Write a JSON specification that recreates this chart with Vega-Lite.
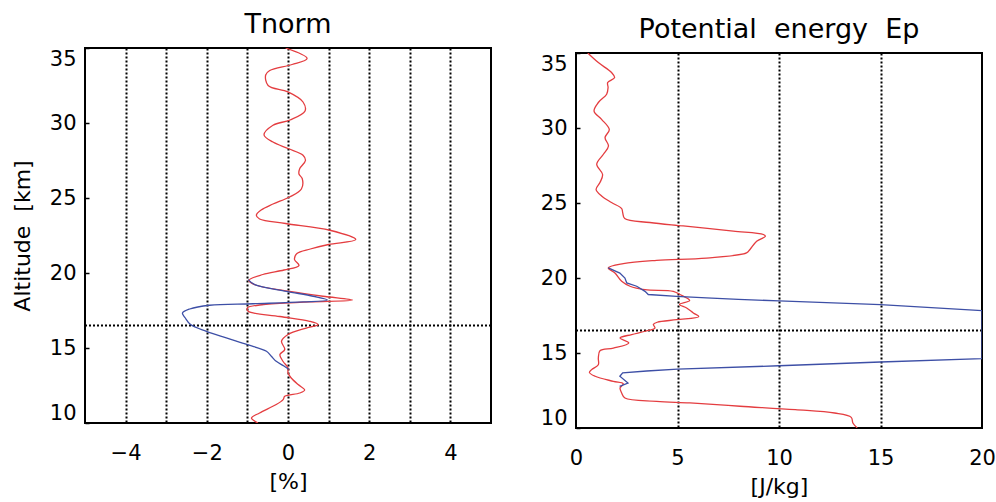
{
  "$schema": "https://vega.github.io/schema/vega-lite/v6.json",
  "background": "white",
  "padding": {"left": 10, "top": 10, "right": 0, "bottom": 0},
  "spacing": 46,
  "center": true,
  "config": {
    "font": "DejaVu Sans",
    "view": {"stroke": "black", "strokeWidth": 2},
    "title": {"fontSize": 27, "fontWeight": "normal", "color": "black", "offset": 8},
    "axis": {
      "labelFont": "DejaVu Sans",
      "labelFontSize": 21,
      "labelColor": "black",
      "titleFont": "DejaVu Sans",
      "titleFontSize": 22,
      "titleFontWeight": "normal",
      "titleColor": "black",
      "domain": false,
      "ticks": false,
      "labelOverlap": false
    }
  },
  "datasets": {
    "tnorm": [
      {"s": "profile", "alt": 35.0, "v": -0.06},
      {"s": "profile", "alt": 34.3, "v": 0.47},
      {"s": "profile", "alt": 33.9, "v": 0.1},
      {"s": "profile", "alt": 33.5, "v": -0.45},
      {"s": "profile", "alt": 33.2, "v": -0.55},
      {"s": "profile", "alt": 32.5, "v": -0.49},
      {"s": "profile", "alt": 32.07, "v": 0.0},
      {"s": "profile", "alt": 31.4, "v": 0.37},
      {"s": "profile", "alt": 30.8, "v": 0.42},
      {"s": "profile", "alt": 30.2, "v": 0.05},
      {"s": "profile", "alt": 29.85, "v": -0.37},
      {"s": "profile", "alt": 29.2, "v": -0.59},
      {"s": "profile", "alt": 28.73, "v": -0.37},
      {"s": "profile", "alt": 28.3, "v": 0.0},
      {"s": "profile", "alt": 27.85, "v": 0.37},
      {"s": "profile", "alt": 27.5, "v": 0.43},
      {"s": "profile", "alt": 26.96, "v": 0.29},
      {"s": "profile", "alt": 26.6, "v": 0.27},
      {"s": "profile", "alt": 26.3, "v": 0.35},
      {"s": "profile", "alt": 25.6, "v": 0.33},
      {"s": "profile", "alt": 25.07, "v": 0.04},
      {"s": "profile", "alt": 24.6, "v": -0.37},
      {"s": "profile", "alt": 24.2, "v": -0.66},
      {"s": "profile", "alt": 23.85, "v": -0.78},
      {"s": "profile", "alt": 23.6, "v": -0.7},
      {"s": "profile", "alt": 23.3, "v": -0.06},
      {"s": "profile", "alt": 22.85, "v": 1.03},
      {"s": "profile", "alt": 22.23, "v": 1.67},
      {"s": "profile", "alt": 21.9, "v": 1.0},
      {"s": "profile", "alt": 21.6, "v": 0.55},
      {"s": "profile", "alt": 21.3, "v": 0.22},
      {"s": "profile", "alt": 20.9, "v": 0.16},
      {"s": "profile", "alt": 20.5, "v": 0.27},
      {"s": "profile", "alt": 20.2, "v": -0.1},
      {"s": "profile", "alt": 19.9, "v": -0.62},
      {"s": "profile", "alt": 19.5, "v": -0.97},
      {"s": "profile", "alt": 19.2, "v": -0.8},
      {"s": "profile", "alt": 18.78, "v": 0.04},
      {"s": "profile", "alt": 18.45, "v": 0.86},
      {"s": "profile", "alt": 18.2, "v": 1.59},
      {"s": "profile", "alt": 18.07, "v": 0.53},
      {"s": "profile", "alt": 17.9, "v": -0.6},
      {"s": "profile", "alt": 17.67, "v": -1.0},
      {"s": "profile", "alt": 17.45, "v": -0.98},
      {"s": "profile", "alt": 17.1, "v": -0.2},
      {"s": "profile", "alt": 16.78, "v": 0.53},
      {"s": "profile", "alt": 16.56, "v": 0.74},
      {"s": "profile", "alt": 16.33, "v": 0.45},
      {"s": "profile", "alt": 15.9, "v": 0.0},
      {"s": "profile", "alt": 15.45, "v": -0.16},
      {"s": "profile", "alt": 14.9, "v": -0.08},
      {"s": "profile", "alt": 14.56, "v": -0.2},
      {"s": "profile", "alt": 14.1, "v": -0.12},
      {"s": "profile", "alt": 13.67, "v": 0.0},
      {"s": "profile", "alt": 13.33, "v": 0.0},
      {"s": "profile", "alt": 13.0, "v": 0.08},
      {"s": "profile", "alt": 12.56, "v": 0.25},
      {"s": "profile", "alt": 12.2, "v": 0.41},
      {"s": "profile", "alt": 12.0, "v": 0.29},
      {"s": "profile", "alt": 11.78, "v": -0.08},
      {"s": "profile", "alt": 11.56, "v": -0.12},
      {"s": "profile", "alt": 11.23, "v": -0.29},
      {"s": "profile", "alt": 10.67, "v": -0.7},
      {"s": "profile", "alt": 10.33, "v": -0.9},
      {"s": "profile", "alt": 10.0, "v": -0.74},
      {"s": "layer", "alt": 19.56, "v": -0.98},
      {"s": "layer", "alt": 19.22, "v": -0.82},
      {"s": "layer", "alt": 18.78, "v": -0.04},
      {"s": "layer", "alt": 18.45, "v": 0.62},
      {"s": "layer", "alt": 18.2, "v": 0.97},
      {"s": "layer", "alt": 18.07, "v": 0.37},
      {"s": "layer", "alt": 17.95, "v": -0.86},
      {"s": "layer", "alt": 17.85, "v": -1.93},
      {"s": "layer", "alt": 17.6, "v": -2.42},
      {"s": "layer", "alt": 17.33, "v": -2.6},
      {"s": "layer", "alt": 17.0, "v": -2.53},
      {"s": "layer", "alt": 16.56, "v": -2.4},
      {"s": "layer", "alt": 16.11, "v": -2.01},
      {"s": "layer", "alt": 15.67, "v": -1.52},
      {"s": "layer", "alt": 15.22, "v": -1.0},
      {"s": "layer", "alt": 14.78, "v": -0.53},
      {"s": "layer", "alt": 14.45, "v": -0.41},
      {"s": "layer", "alt": 14.11, "v": -0.29},
      {"s": "layer", "alt": 13.8, "v": -0.1},
      {"s": "layer", "alt": 13.58, "v": 0.02}
    ],
    "ep": [
      {"s": "profile", "alt": 35.0, "v": 0.58},
      {"s": "profile", "alt": 34.36, "v": 1.1},
      {"s": "profile", "alt": 33.7, "v": 1.75},
      {"s": "profile", "alt": 33.36, "v": 1.9},
      {"s": "profile", "alt": 33.03, "v": 1.56},
      {"s": "profile", "alt": 32.7, "v": 1.58},
      {"s": "profile", "alt": 32.25, "v": 1.51},
      {"s": "profile", "alt": 31.7, "v": 1.1},
      {"s": "profile", "alt": 31.13, "v": 0.89},
      {"s": "profile", "alt": 30.58, "v": 1.26},
      {"s": "profile", "alt": 29.9, "v": 1.64},
      {"s": "profile", "alt": 29.36, "v": 1.43},
      {"s": "profile", "alt": 28.8, "v": 1.6},
      {"s": "profile", "alt": 28.25, "v": 1.35},
      {"s": "profile", "alt": 27.58, "v": 1.02},
      {"s": "profile", "alt": 26.9, "v": 1.31},
      {"s": "profile", "alt": 26.36, "v": 1.18},
      {"s": "profile", "alt": 25.9, "v": 0.99},
      {"s": "profile", "alt": 25.47, "v": 1.26},
      {"s": "profile", "alt": 25.03, "v": 1.75},
      {"s": "profile", "alt": 24.63, "v": 2.25},
      {"s": "profile", "alt": 24.36, "v": 2.3},
      {"s": "profile", "alt": 23.96, "v": 2.4},
      {"s": "profile", "alt": 23.7, "v": 3.64},
      {"s": "profile", "alt": 23.47, "v": 5.28},
      {"s": "profile", "alt": 23.13, "v": 7.75},
      {"s": "profile", "alt": 22.9, "v": 9.23},
      {"s": "profile", "alt": 22.78, "v": 9.33},
      {"s": "profile", "alt": 22.45, "v": 8.9},
      {"s": "profile", "alt": 21.9, "v": 8.57},
      {"s": "profile", "alt": 21.67, "v": 8.4},
      {"s": "profile", "alt": 21.33, "v": 6.43},
      {"s": "profile", "alt": 21.18, "v": 3.97},
      {"s": "profile", "alt": 20.96, "v": 2.33},
      {"s": "profile", "alt": 20.67, "v": 1.59},
      {"s": "profile", "alt": 20.33, "v": 1.92},
      {"s": "profile", "alt": 19.78, "v": 2.25},
      {"s": "profile", "alt": 19.45, "v": 2.66},
      {"s": "profile", "alt": 19.22, "v": 3.4},
      {"s": "profile", "alt": 19.11, "v": 4.79},
      {"s": "profile", "alt": 18.9, "v": 5.12},
      {"s": "profile", "alt": 18.5, "v": 5.6},
      {"s": "profile", "alt": 18.23, "v": 5.1},
      {"s": "profile", "alt": 18.0, "v": 5.45},
      {"s": "profile", "alt": 17.67, "v": 5.78},
      {"s": "profile", "alt": 17.42, "v": 6.05},
      {"s": "profile", "alt": 17.22, "v": 4.96},
      {"s": "profile", "alt": 17.05, "v": 4.0},
      {"s": "profile", "alt": 16.9, "v": 3.81},
      {"s": "profile", "alt": 16.67, "v": 3.89},
      {"s": "profile", "alt": 16.45, "v": 3.4},
      {"s": "profile", "alt": 16.23, "v": 2.74},
      {"s": "profile", "alt": 16.0, "v": 2.17},
      {"s": "profile", "alt": 15.67, "v": 2.6},
      {"s": "profile", "alt": 15.33, "v": 1.84},
      {"s": "profile", "alt": 15.15, "v": 1.18},
      {"s": "profile", "alt": 14.67, "v": 1.1},
      {"s": "profile", "alt": 14.22, "v": 1.1},
      {"s": "profile", "alt": 13.89, "v": 0.77},
      {"s": "profile", "alt": 13.7, "v": 0.66},
      {"s": "profile", "alt": 13.45, "v": 0.94},
      {"s": "profile", "alt": 13.11, "v": 1.84},
      {"s": "profile", "alt": 12.95, "v": 2.33},
      {"s": "profile", "alt": 12.67, "v": 2.17},
      {"s": "profile", "alt": 12.33, "v": 2.25},
      {"s": "profile", "alt": 12.0, "v": 2.41},
      {"s": "profile", "alt": 11.78, "v": 3.97},
      {"s": "profile", "alt": 11.67, "v": 5.61},
      {"s": "profile", "alt": 11.45, "v": 8.08},
      {"s": "profile", "alt": 11.22, "v": 10.8},
      {"s": "profile", "alt": 11.0, "v": 12.74},
      {"s": "profile", "alt": 10.71, "v": 13.56},
      {"s": "profile", "alt": 10.33, "v": 13.64},
      {"s": "profile", "alt": 10.0, "v": 13.85},
      {"s": "layer", "alt": 20.67, "v": 1.59},
      {"s": "layer", "alt": 20.33, "v": 2.16},
      {"s": "layer", "alt": 20.0, "v": 2.41},
      {"s": "layer", "alt": 19.67, "v": 2.5},
      {"s": "layer", "alt": 19.45, "v": 2.99},
      {"s": "layer", "alt": 19.11, "v": 3.4},
      {"s": "layer", "alt": 18.9, "v": 3.56},
      {"s": "layer", "alt": 18.78, "v": 4.96},
      {"s": "layer", "alt": 18.67, "v": 6.43},
      {"s": "layer", "alt": 18.58, "v": 8.0},
      {"s": "layer", "alt": 18.47, "v": 10.0},
      {"s": "layer", "alt": 18.22, "v": 15.0},
      {"s": "layer", "alt": 17.83, "v": 20.0},
      {"s": "layer", "alt": 14.62, "v": 20.0},
      {"s": "layer", "alt": 14.4, "v": 15.0},
      {"s": "layer", "alt": 14.15, "v": 10.0},
      {"s": "layer", "alt": 13.93, "v": 5.0},
      {"s": "layer", "alt": 13.8, "v": 3.48},
      {"s": "layer", "alt": 13.67, "v": 2.3},
      {"s": "layer", "alt": 13.45, "v": 2.16},
      {"s": "layer", "alt": 13.0, "v": 2.56},
      {"s": "layer", "alt": 12.78, "v": 2.15}
    ],
    "tropopause": [{"alt": 16.5}]
  },
  "hconcat": [
    {
      "title": {"text": "Tnorm"},
      "width": 406,
      "height": 375,
      "layer": [
        {
          "data": {"name": "tropopause"},
          "mark": {"type": "rule", "color": "black", "strokeWidth": 2, "strokeDash": [2, 2]},
          "encoding": {"y": {"field": "alt", "type": "quantitative", "scale": {"domain": [10, 35]}}}
        },
        {
          "data": {"name": "tnorm"},
          "transform": [{"filter": "datum.s == 'profile'"}],
          "mark": {"type": "line", "color": "#e43d40", "strokeWidth": 1.3, "clip": true, "interpolate": "catmull-rom"},
          "encoding": {
            "x": {
              "field": "v", "type": "quantitative",
              "scale": {"domain": [-5, 5], "nice": false},
              "axis": {
                "title": ["[%]", ""],
                "titleLineHeight": 10,
                "values": [-4, -3, -2, -1, 0, 1, 2, 3, 4],
                "labelExpr": "datum.value % 2 == 0 ? datum.label : ''",
                "labelFlush": false,
                "labelPadding": 19,
                "titlePadding": 8,
                "grid": true,
                "gridColor": "black",
                "gridDash": [2, 2],
                "gridWidth": 2,
                "gridOpacity": 1
              }
            },
            "y": {
              "field": "alt", "type": "quantitative",
              "scale": {"domain": [10, 35], "nice": false},
              "axis": {
                "title": "Altitude\u00a0\u00a0[km]",
                "values": [10, 15, 20, 25, 30, 35],
                "labelFlush": true,
                "ticks": true,
                "tickSize": -4,
                "tickColor": "black",
                "tickWidth": 1.5,
                "labelPadding": 13,
                "titlePadding": 15,
                "grid": false
              }
            },
            "order": {"field": "alt", "type": "quantitative"}
          }
        },
        {
          "data": {"name": "tnorm"},
          "transform": [{"filter": "datum.s == 'layer'"}],
          "mark": {"type": "line", "color": "#3d4fa6", "strokeWidth": 1.3, "clip": true, "interpolate": "catmull-rom"},
          "encoding": {
            "x": {"field": "v", "type": "quantitative"},
            "y": {"field": "alt", "type": "quantitative"},
            "order": {"field": "alt", "type": "quantitative"}
          }
        }
      ]
    },
    {
      "title": {"text": "Potential\u00a0\u00a0energy\u00a0\u00a0Ep"},
      "width": 406,
      "height": 375,
      "layer": [
        {
          "data": {"name": "tropopause"},
          "mark": {"type": "rule", "color": "black", "strokeWidth": 2, "strokeDash": [2, 2]},
          "encoding": {"y": {"field": "alt", "type": "quantitative", "scale": {"domain": [10, 35]}}}
        },
        {
          "data": {"name": "ep"},
          "transform": [{"filter": "datum.s == 'profile'"}],
          "mark": {"type": "line", "color": "#e43d40", "strokeWidth": 1.3, "clip": true, "interpolate": "catmull-rom"},
          "encoding": {
            "x": {
              "field": "v", "type": "quantitative",
              "scale": {"domain": [0, 20], "nice": false},
              "axis": {
                "title": "[J/kg]",
                "values": [0, 5, 10, 15, 20],
                "labelFlush": false,
                "labelPadding": 19,
                "titlePadding": 8,
                "grid": true,
                "gridColor": {"condition": {"test": "datum.value == 0 || datum.value == 20", "value": "transparent"}, "value": "black"},
                "gridDash": [2, 2],
                "gridWidth": 2,
                "gridOpacity": 1
              }
            },
            "y": {
              "field": "alt", "type": "quantitative",
              "scale": {"domain": [10, 35], "nice": false},
              "axis": {
                "title": null,
                "values": [10, 15, 20, 25, 30, 35],
                "labelFlush": true,
                "ticks": true,
                "tickSize": -4,
                "tickColor": "black",
                "tickWidth": 1.5,
                "labelPadding": 13,
                "grid": false
              }
            },
            "order": {"field": "alt", "type": "quantitative"}
          }
        },
        {
          "data": {"name": "ep"},
          "transform": [{"filter": "datum.s == 'layer'"}],
          "mark": {"type": "line", "color": "#3d4fa6", "strokeWidth": 1.3, "clip": true},
          "encoding": {
            "x": {"field": "v", "type": "quantitative"},
            "y": {"field": "alt", "type": "quantitative"},
            "order": {"field": "alt", "type": "quantitative"}
          }
        }
      ]
    }
  ]
}
